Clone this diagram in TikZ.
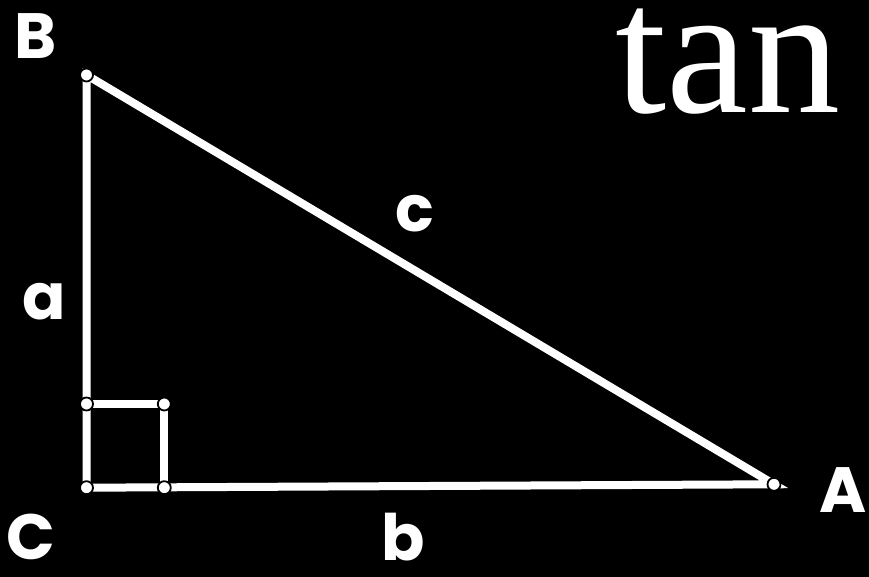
\documentclass[tikz,border=0pt]{standalone}
\usepackage{fontspec}
\setmainfont{Liberation Serif}
\newfontfamily\lblfont{Poppins}
\begin{document}
\begin{tikzpicture}[x=1pt,y=1pt,
  edge/.style={draw=white,line width=8pt},
  vdot/.style={circle,fill=white,draw=black,line width=1.8pt,minimum size=13pt,inner sep=0pt},
  lbl/.style={text=white,font=\lblfont\bfseries\fontsize{64}{64}\selectfont,inner sep=0pt}]
\fill[black] (0,0) rectangle (869,577);
\useasboundingbox (0,0) rectangle (869,577);
\coordinate (B) at (86.5,502);
\coordinate (C) at (86.5,89.3);
\coordinate (A) at (774,92.7);
\coordinate (Q1) at (86.5,173);
\coordinate (Q2) at (164.3,173);
\coordinate (Q3) at (164.3,89.3);
\draw[edge] (B) -- (C) -- (A) -- cycle;
\draw[edge] (Q1) -- (Q2) -- (Q3);
\foreach \p in {B,A,C,Q1,Q2,Q3} \node[vdot] at (\p) {};
\node[lbl] (lB) at (36,541) {B};
\node[lbl] (lC) at (31,40) {C};
\node[lbl] (lA) at (843,87) {A};
\node[lbl] (la) at (44,275) {a};
\node[lbl] (lb) at (403,40) {b};
\node[lbl] (lc) at (415,363) {c};
\node[text=white,font=\fontsize{184}{184}\selectfont,inner sep=0pt,anchor=base] (tan) at (728,464) {tan};
\end{tikzpicture}
\end{document}
